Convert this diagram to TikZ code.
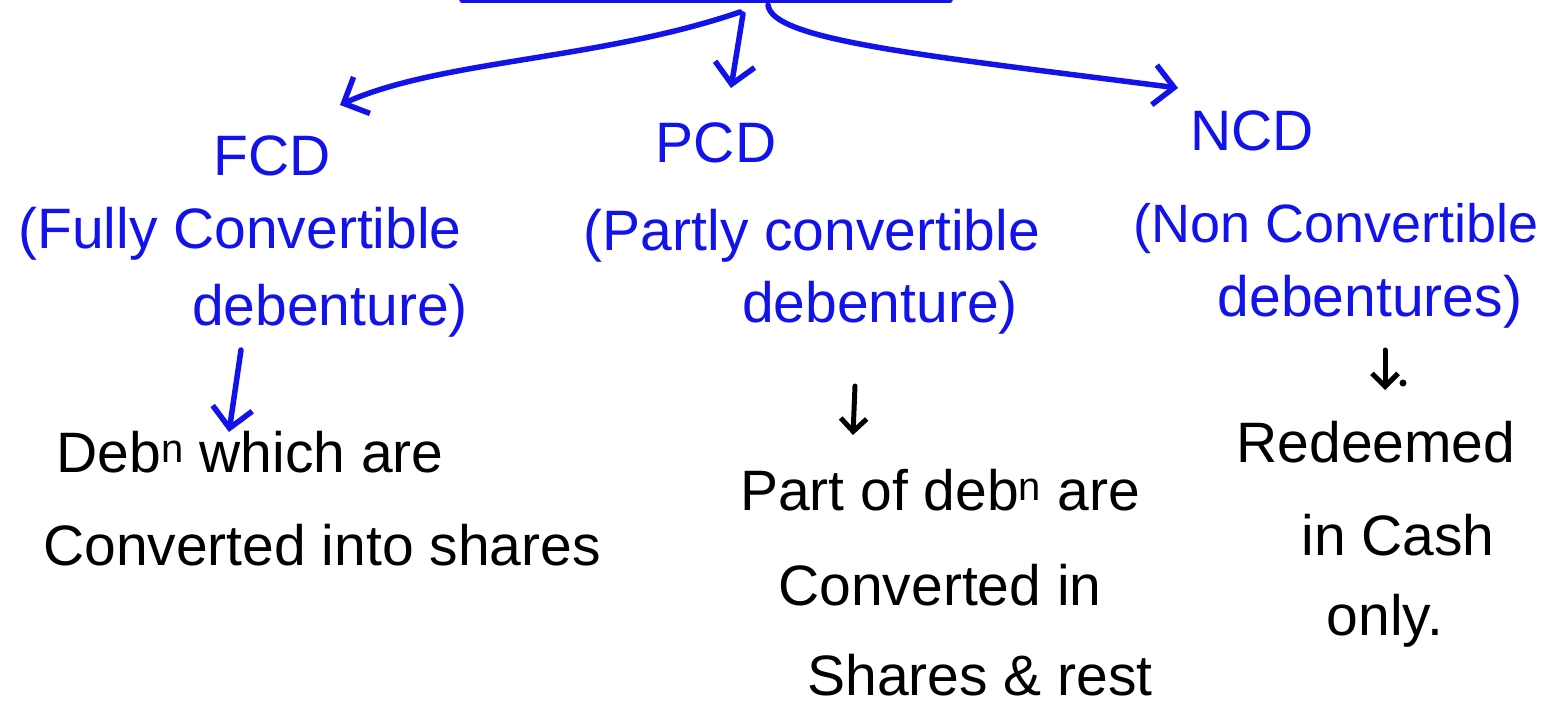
\documentclass[tikz,border=0pt]{standalone}
\usepackage{fontspec}
\setmainfont{Liberation Sans}
\usetikzlibrary{arrows.meta}
\definecolor{ink}{RGB}{18,18,235}
\tikzset{
  bluetxt/.style={text=ink, font=\fontsize{57}{60}\selectfont, inner sep=0pt, anchor=base},
  blacktxt/.style={text=black, font=\fontsize{57}{60}\selectfont, inner sep=0pt, anchor=base},
  bluepen/.style={draw=ink, line width=5.5pt, line cap=round, line join=round},
  blackpen/.style={draw=black, line width=5pt, line cap=round, line join=round},
  barb/.style={-{Straight Barb[length=20pt,width=40pt,line width=5.5pt]}},
  smallbarb/.style={-{Straight Barb[length=13pt,width=26pt,line width=5pt]}}
}
\begin{document}
\begin{tikzpicture}[x=1pt,y=-1pt]
\useasboundingbox (0,0) rectangle (1550,710);
% top line
\coordinate (tl) at (462,0);
\coordinate (tr) at (950,0);
\draw[bluepen] (tl) -- (tr);
\coordinate (sL) at (740,12);
\coordinate (sM) at (743,14);
\coordinate (sR) at (768,5);
\coordinate (eL) at (340,105);
\coordinate (eM) at (731,88);
\coordinate (eR) at (1178,88);
% headings
\node[bluetxt] (fcd) at (272,175) {FCD};
\node[bluetxt] (fcd1) at (240,248) {(Fully Convertible};
\node[bluetxt] (fcd2) at (330,325) {debenture)};
\node[bluetxt] (pcd) at (716,162) {PCD};
\node[bluetxt] (pcd1) at (812,250) {(Partly convertible};
\node[bluetxt] (pcd2) at (880,322) {debenture)};
\node[bluetxt] (ncd) at (1252,150) {NCD};
\node[bluetxt, font=\fontsize{54}{58}\selectfont] (ncd1) at (1336,242) {(Non Convertible};
\node[bluetxt] (ncd2) at (1370,316) {debentures)};
% descriptions
\node[blacktxt] (d1a) at (250,472) {Deb\textsuperscript{n} which are};
\node[blacktxt] (d1b) at (322,565) {Converted into shares};
\node[blacktxt] (d2a) at (940,510) {Part of deb\textsuperscript{n} are};
\node[blacktxt] (d2b) at (940,605) {Converted in};
\node[blacktxt] (d2c) at (980,695) {Shares \& rest};
\node[blacktxt] (d3a) at (1376,462) {Redeemed};
\node[blacktxt] (d3b) at (1398,555) {in Cash};
\node[blacktxt] (d3c) at (1385,635) {only.};
% top arrows
\draw[bluepen,barb] (sL) .. controls (600,60) and (440,60) .. (eL);
\draw[bluepen,barb] (sM) -- (eM);
\draw[bluepen,barb] (sR) .. controls (772,40) and (920,55) .. (eR);
% lower arrows
\coordinate (a1s) at (241,350);
\coordinate (a1e) at (229,432);
\draw[bluepen,barb] (a1s) -- (a1e);
\coordinate (a2s) at (855,386);
\coordinate (a2e) at (853,435);
\draw[blackpen,smallbarb] (a2s) -- (a2e);
\coordinate (a3s) at (1385,350);
\coordinate (a3e) at (1385,390);
\draw[blackpen,smallbarb] (a3s) -- (a3e);
\fill[black] (1403,383) circle (3.5pt);
\end{tikzpicture}
\end{document}
